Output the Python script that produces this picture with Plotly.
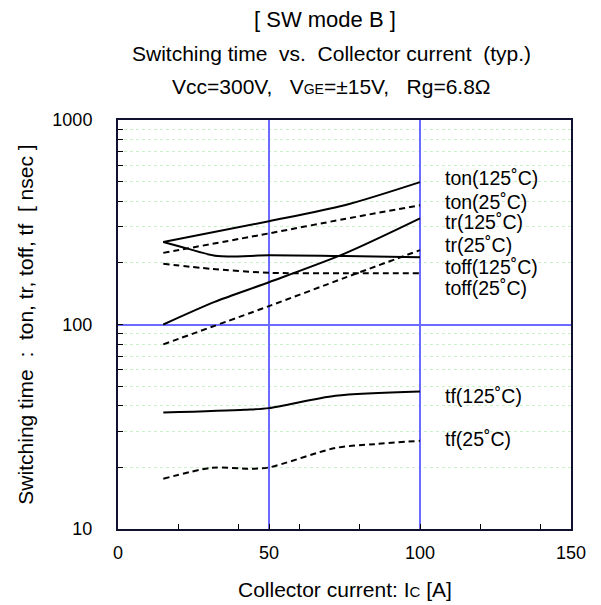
import plotly.graph_objects as go
import math

# ---- data (Ic [A] -> time [nsec]) ----
ton125_x = [15, 50, 75, 100]
ton125_y = [253, 320, 383, 497]
ton25_x = [15, 50, 75, 100]
ton25_y = [224, 279, 328, 383]
tr125_x = [15, 32, 50, 75, 100]
tr125_y = [100, 129, 161, 222, 330]
tr25_x = [15, 50, 75, 100]
tr25_y = [80, 123, 169, 231]
toff125_x = [15, 23, 33, 50, 75, 100]
toff125_y = [253, 235, 216, 218, 216, 213]
toff25_x = [15, 31, 50, 75, 100]
toff25_y = [198, 187, 179, 178, 178]
tf125_x = [15, 42, 50, 72, 100]
tf125_y = [37.1, 38.3, 39.0, 44.8, 47.0]
tf25_x = [15, 31, 44, 50, 72, 85, 100]
tf25_y = [17.6, 19.9, 19.7, 20.0, 24.9, 26.0, 27.0]

labels = ["ton(125˚C)", "ton(25˚C)", "tr(125˚C)", "tr(25˚C)",
          "toff(125˚C)", "toff(25˚C)", "tf(125˚C)", "tf(25˚C)"]
label_y = [518, 397, 317, 244, 191, 151, 44.5, 27.4]

x_major = [0, 50, 100, 150]
x_minor = [20, 40, 60, 80, 120, 140]
y_major = [10, 100, 1000]
y_minor = [d * m for m in (1, 10, 100) for d in range(2, 10)]

FONT = "Arial, Liberation Sans, sans-serif"

series = [
    (ton125_x, ton125_y, "solid"), (ton25_x, ton25_y, "dash"),
    (tr125_x, tr125_y, "solid"), (tr25_x, tr25_y, "dash"),
    (toff125_x, toff125_y, "solid"), (toff25_x, toff25_y, "dash"),
    (tf125_x, tf125_y, "solid"), (tf25_x, tf25_y, "dash"),
]

fig = go.Figure()
for (xs, ys, d), name in zip(series, labels):
    fig.add_trace(go.Scatter(
        x=xs, y=ys, mode="lines", name=name,
        line=dict(color="black", width=2, dash="6px,4px" if d == "dash" else "solid",
                  shape="spline", smoothing=0.8),
        showlegend=False))

for name, ly in zip(labels, label_y):
    fig.add_annotation(x=107.5, y=math.log10(ly), xref="x", yref="y", text=name,
                       showarrow=False, xanchor="left", yanchor="middle",
                       font=dict(family=FONT, size=19.5, color="black"))

titles = ["[ SW mode B ]",
          "Switching time  vs.  Collector current  (typ.)",
          "Vcc=300V,   V<span style='font-size:14px'>GE</span>=±15V,   Rg=6.8Ω"]
title_x = [0.457, 0.472, 0.472]
title_size = [22, 21, 21]
for t, xp, yp, fs in zip(titles, title_x, [1.2445, 1.1638, 1.0831], title_size):
    fig.add_annotation(x=xp, y=yp, xref="paper", yref="paper", text=t,
                       showarrow=False, xanchor="center", yanchor="middle",
                       font=dict(family=FONT, size=fs, color="black"))

fig.add_annotation(x=0.5, y=-0.147, xref="paper", yref="paper",
                   text="Collector current: I<span style='font-size:15px'>C</span> [A]",
                   showarrow=False, xanchor="center", yanchor="middle",
                   font=dict(family=FONT, size=21, color="black"))
fig.add_annotation(x=-0.205, y=0.5, xref="paper", yref="paper",
                   text="Switching time  :  ton, tr, toff, tf  [ nsec ]",
                   textangle=-90, showarrow=False, xanchor="center", yanchor="middle",
                   font=dict(family=FONT, size=21, color="black"))

# the page body adds an 8px offset; size/margins chosen so the plot area lands where the reference has it
fig.update_layout(
    width=593, height=597,
    margin=dict(l=110, r=30, t=112, b=76),
    paper_bgcolor="white", plot_bgcolor="white",
    font=dict(family=FONT, size=18, color="black"),
    xaxis=dict(range=[0, 150], tickvals=x_major, ticks="inside", ticklen=5,
               tickcolor="black", showgrid=True, gridcolor="#6b6bff", gridwidth=1.5,
               showline=True, linecolor="#101030", linewidth=2, mirror=True,
               zeroline=False, ticklabelstandoff=6,
               minor=dict(tickvals=x_minor, ticks="inside", ticklen=5,
                          tickcolor="black", showgrid=False)),
    yaxis=dict(type="log", range=[1, 3], tickvals=y_major, ticktext=["10", "100", "1000"],
               ticks="inside", ticklen=5, tickcolor="black",
               showgrid=True, gridcolor="#6b6bff", gridwidth=1.5,
               showline=True, linecolor="#101030", linewidth=2, mirror=True,
               zeroline=False, ticklabelstandoff=20,
               minor=dict(tickvals=y_minor, ticks="inside", ticklen=5,
                          tickcolor="black", showgrid=True, gridcolor="#c9f2c9",
                          griddash="dot", gridwidth=1)),
)

fig.write_html("out.html")
